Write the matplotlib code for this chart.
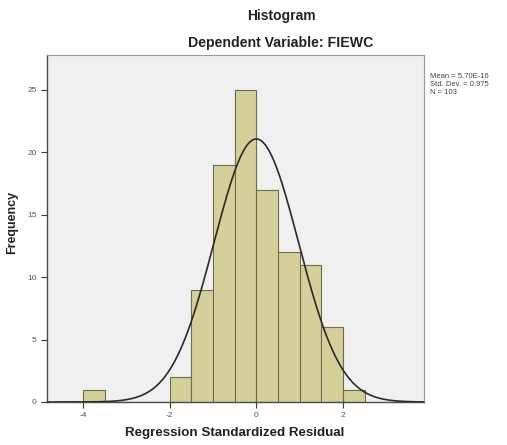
import numpy as np
import matplotlib
matplotlib.use("Agg")
import matplotlib.pyplot as plt

# Data
bin_edges = [-4.0, -3.5, -3.0, -2.5, -2.0, -1.5, -1.0, -0.5, 0.0, 0.5, 1.0, 1.5, 2.0, 2.5]
counts = [1, 0, 0, 0, 2, 9, 19, 25, 17, 12, 11, 6, 1]
mean_val = 5.70e-16
std_val = 0.975
n_val = 103
x_ticks = [-4, -2, 0, 2]
y_ticks = [0, 5, 10, 15, 20, 25]

plt.rcParams['font.family'] = ['Liberation Sans', 'DejaVu Sans']
plt.rcParams['axes.unicode_minus'] = False

fig = plt.figure(figsize=(5.07, 4.45), dpi=100)
W, H = 507, 445
left, right, top, bottom = 47, 424, 55, 402
ax = fig.add_axes([left / W, 1 - bottom / H, (right - left) / W, (bottom - top) / H])
ax.set_facecolor('#F0F0F0')

lefts = np.array(bin_edges[:-1])
widths = np.diff(bin_edges)
ax.bar(lefts, counts, width=widths, align='edge', color='#D5D09A',
       edgecolor='#6E6C4C', linewidth=0.8, zorder=2)

bw = widths[0]
xs = np.linspace(-4.83, 3.87, 400)
ys = n_val * bw / (std_val * np.sqrt(2 * np.pi)) * np.exp(-0.5 * ((xs - mean_val) / std_val) ** 2)
ax.plot(xs, ys, color='#2A2A2A', linewidth=1.2, zorder=3)

ax.set_xlim(-4.83, 3.87)
ax.set_ylim(0, 27.8)
ax.set_xticks(x_ticks)
ax.set_yticks(y_ticks)
ax.tick_params(axis='both', labelsize=6, colors='#333333', length=4, width=0.8,
               labelcolor='#555555')
for s in ['left', 'bottom']:
    ax.spines[s].set_color('#4A4A4A')
    ax.spines[s].set_linewidth(1.0)
for s in ['top', 'right']:
    ax.spines[s].set_color('#9A9A9A')
    ax.spines[s].set_linewidth(0.8)

fig.text(235 / W, 1 - 433 / H, 'Regression Standardized Residual', fontsize=9.6,
         fontweight='bold', color='#222222', ha='center', va='center')
fig.text(12 / W, 1 - 222 / H, 'Frequency', rotation=90, fontsize=9, fontweight='bold',
         color='#222222', ha='center', va='center')

fig.text(281 / W, 1 - 16 / H, 'Histogram', fontsize=10, fontweight='bold',
         color='#222222', ha='center', va='center')
fig.text(281 / W, 1 - 43 / H, 'Dependent Variable: FIEWC', fontsize=10.2, fontweight='bold',
         color='#222222', ha='center', va='center')

stats = f'Mean = {mean_val:.2E}\nStd. Dev. = {std_val}\nN = {n_val}'
fig.text(430 / W, 1 - 73 / H, stats, fontsize=5.5, color='#444444',
         ha='left', va='top', linespacing=1.25)

fig.savefig('out.png', dpi=100)
